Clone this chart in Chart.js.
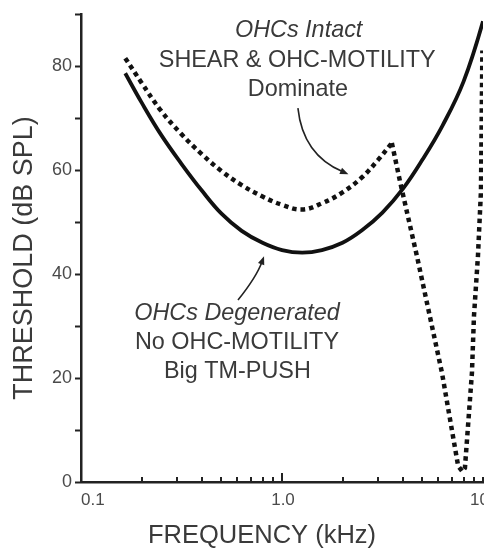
<!DOCTYPE html>
<html>
<head>
<meta charset="utf-8">
<script src="https://cdn.jsdelivr.net/npm/chart.js@4.4.1/dist/chart.umd.min.js"></script>
<style>
  html, body { margin: 0; padding: 0; background: #fff; }
  #wrap { width: 484px; height: 551px; }
</style>
</head>
<body>
<div id="wrap"><canvas id="thresholdChart" width="484" height="551"></canvas></div>
<script>
// solid curve: OHCs degenerated
const solidFreq = [0.166, 0.2, 0.25, 0.316, 0.4, 0.5, 0.63, 0.8, 1.0, 1.26, 1.58, 2.0, 2.5, 3.16, 4.0, 5.0, 6.3, 8.0, 10.0, 10.2];
const solidThr  = [78.6, 73.0, 66.8, 61.2, 56.0, 51.6, 48.3, 46.0, 44.6, 44.1, 44.6, 46.0, 48.4, 51.8, 56.4, 62.0, 68.6, 77.0, 88.6, 91.5];

// dotted curve: OHCs intact (smooth part up to the peak)
const intactFreq = [0.166, 0.2, 0.25, 0.316, 0.4, 0.5, 0.63, 0.8, 1.0, 1.26, 1.58, 2.0, 2.5, 3.0, 3.52];
const intactThr  = [81.5, 76.8, 71.4, 66.9, 63.0, 59.8, 57.1, 54.9, 53.3, 52.4, 53.6, 55.7, 58.6, 61.9, 65.2];

// dotted curve: the sharp notch near 8 kHz
const notchFreq = [3.52, 3.87, 4.7, 6.25, 7.52, 7.9, 8.13, 8.81, 9.02, 9.44, 9.77, 9.93];
const notchThr  = [65.2, 57.7, 43.3, 21, 3.1, 2.0, 2.7, 21, 32, 43.5, 56, 83];

const xTickVals = [0.1, 0.2, 0.3, 0.4, 0.5, 0.6, 0.7, 0.8, 0.9, 1, 2, 3, 4, 5, 6, 7, 8, 9, 10];
const xTickLabels = {0.1: '0.1', 1: '1.0', 10: '10'};

const xTitle = 'FREQUENCY (kHz)';
const yTitle = 'THRESHOLD (dB SPL)';

const textColor = '#3a3a3a';
const lineColor = '#111';
const fontFam = '"Liberation Sans", Arial, sans-serif';

function pts(xs, ys) {
    return xs.map((x, i) => ({x: x, y: ys[i]}));
}

// annotation texts and arrows, in data coordinates
const notes = [
    {x: 1.21, y: 86.9, text: 'OHCs Intact', italic: true},
    {x: 1.19, y: 81.0, text: 'SHEAR & OHC-MOTILITY'},
    {x: 1.20, y: 75.4, text: 'Dominate'},
    {x: 0.597, y: 32.5, text: 'OHCs Degenerated', italic: true},
    {x: 0.597, y: 26.9, text: 'No OHC-MOTILITY'},
    {x: 0.60, y: 21.2, text: 'Big TM-PUSH'}
];
const arrows = [
    {from: [1.20, 71.9], ctrl: [1.27, 62.9], to: [2.14, 59.2]},
    {from: [0.604, 35.0], ctrl: [0.745, 39.4], to: [0.814, 43.4]}
];

const extras = {
    id: 'extras',
    afterDatasetsDraw(chart) {
        const ctx = chart.ctx;
        const xs = chart.scales.x, ys = chart.scales.y;
        const bottom = chart.chartArea.bottom;
        ctx.save();
        // inward ticks on the frequency axis
        ctx.strokeStyle = '#222';
        ctx.lineWidth = 2;
        xTickVals.forEach(v => {
            const px = Math.round(xs.getPixelForValue(v));
            const len = (v === 1) ? 9 : 5;
            ctx.beginPath();
            ctx.moveTo(px, bottom);
            ctx.lineTo(px, bottom - len);
            ctx.stroke();
        });
        // frequency tick labels
        ctx.fillStyle = '#4a4a4a';
        ctx.font = '17px ' + fontFam;
        ctx.textBaseline = 'middle';
        xTickVals.forEach(v => {
            const lab = xTickLabels[v];
            if (!lab) return;
            const px = xs.getPixelForValue(v);
            if (v === 0.1) { ctx.textAlign = 'left'; ctx.fillText(lab, px, bottom + 18); }
            else if (v === 10) { ctx.textAlign = 'left'; ctx.fillText(lab, px - 13, bottom + 18); }
            else { ctx.textAlign = 'center'; ctx.fillText(lab, px + 1, bottom + 18); }
        });
        // axis titles
        ctx.fillStyle = textColor;
        ctx.textAlign = 'center';
        ctx.font = '25.5px ' + fontFam;
        ctx.fillText(xTitle, 262, 536);
        ctx.save();
        ctx.translate(25, 258);
        ctx.rotate(-Math.PI / 2);
        ctx.font = '27px ' + fontFam;
        ctx.fillText(yTitle, 0, 0);
        ctx.restore();
        // annotation texts
        notes.forEach(n => {
            ctx.font = (n.italic ? 'italic ' : '') + '23.4px ' + fontFam;
            ctx.fillText(n.text, xs.getPixelForValue(n.x), ys.getPixelForValue(n.y));
        });
        // arrows
        ctx.strokeStyle = '#222';
        ctx.fillStyle = '#222';
        ctx.lineWidth = 1.6;
        arrows.forEach(a => {
            const x0 = xs.getPixelForValue(a.from[0]), y0 = ys.getPixelForValue(a.from[1]);
            const cx = xs.getPixelForValue(a.ctrl[0]), cy = ys.getPixelForValue(a.ctrl[1]);
            const x1 = xs.getPixelForValue(a.to[0]), y1 = ys.getPixelForValue(a.to[1]);
            const ang = Math.atan2(y1 - cy, x1 - cx);
            const hx = x1 - 6 * Math.cos(ang), hy = y1 - 6 * Math.sin(ang);
            ctx.beginPath();
            ctx.moveTo(x0, y0);
            ctx.quadraticCurveTo(cx, cy, hx, hy);
            ctx.stroke();
            ctx.beginPath();
            ctx.moveTo(x1, y1);
            ctx.lineTo(x1 - 9 * Math.cos(ang - 0.38), y1 - 9 * Math.sin(ang - 0.38));
            ctx.lineTo(x1 - 9 * Math.cos(ang + 0.38), y1 - 9 * Math.sin(ang + 0.38));
            ctx.closePath();
            ctx.fill();
        });
        ctx.restore();
    }
};

const dotted = {
    borderColor: lineColor,
    borderWidth: 4.5,
    borderDash: [4.5, 4],
    borderCapStyle: 'butt',
    pointRadius: 0,
    fill: false
};

new Chart(document.getElementById('thresholdChart').getContext('2d'), {
    type: 'scatter',
    data: {
        datasets: [
            {
                label: 'OHCs Degenerated',
                data: pts(solidFreq, solidThr),
                showLine: true,
                borderColor: lineColor,
                borderWidth: 3.8,
                pointRadius: 0,
                tension: 0.4,
                fill: false
            },
            Object.assign({
                label: 'OHCs Intact',
                data: pts(intactFreq, intactThr),
                showLine: true,
                tension: 0.4
            }, dotted),
            Object.assign({
                label: 'OHCs Intact notch',
                data: pts(notchFreq, notchThr),
                showLine: true,
                tension: 0
            }, dotted)
        ]
    },
    options: {
        responsive: false,
        animation: false,
        layout: { padding: { top: 14, right: 1, left: 0, bottom: 0 } },
        plugins: {
            legend: { display: false },
            tooltip: { enabled: false }
        },
        scales: {
            x: {
                type: 'logarithmic',
                min: 0.1,
                max: 10,
                afterBuildTicks: (scale) => {
                    scale.ticks = xTickVals.map(v => ({value: v}));
                },
                afterFit: (scale) => {
                    scale.height = 69;
                    scale.paddingLeft = 0;
                    scale.paddingRight = 0;
                },
                ticks: { display: false },
                grid: { display: false },
                border: { display: true, color: '#222', width: 2.5 }
            },
            y: {
                min: 0,
                max: 90,
                afterFit: (scale) => {
                    scale.width = 81;
                    scale.paddingTop = 0;
                    scale.paddingBottom = 0;
                },
                ticks: {
                    stepSize: 10,
                    padding: 3,
                    color: '#4a4a4a',
                    font: { family: fontFam, size: 18 },
                    callback: (v) => (v % 20 === 0 && v < 90) ? String(v) : ''
                },
                grid: {
                    drawOnChartArea: false,
                    drawTicks: true,
                    tickLength: 6,
                    tickWidth: 2,
                    color: '#222'
                },
                border: { display: true, color: '#222', width: 2.5 }
            }
        }
    },
    plugins: [extras]
});
</script>
</body>
</html>
